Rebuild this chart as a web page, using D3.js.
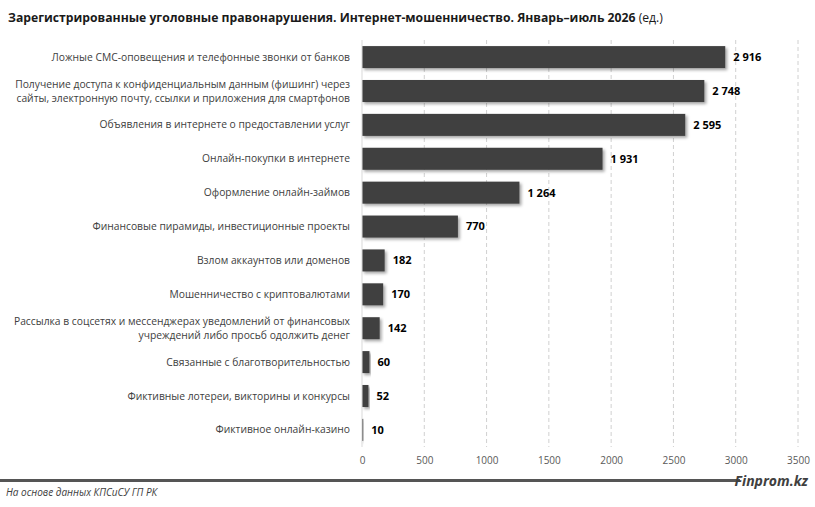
<!DOCTYPE html>
<html>
<head>
<meta charset="utf-8">
<script src="https://cdn.jsdelivr.net/npm/d3@7"></script>
<style>
  body { margin: 0; background: #fff; overflow: hidden; }
  text { font-family: "Open Sans", "Noto Sans", sans-serif; }
</style>
</head>
<body>
<div id="chart-area"></div>
<script>
// Data
const categories = [
  ['Ложные СМС-оповещения и телефонные звонки от банков'],
  ['Получение доступа к конфиденциальным данным (фишинг) через', 'сайты, электронную почту, ссылки и приложения для смартфонов'],
  ['Объявления в интернете о предоставлении услуг'],
  ['Онлайн-покупки в интернете'],
  ['Оформление онлайн-займов'],
  ['Финансовые пирамиды, инвестиционные проекты'],
  ['Взлом аккаунтов или доменов'],
  ['Мошенничество с криптовалютами'],
  ['Рассылка в соцсетях и мессенджерах уведомлений от финансовых', 'учреждений либо просьб одолжить денег'],
  ['Связанные с благотворительностью'],
  ['Фиктивные лотереи, викторины и конкурсы'],
  ['Фиктивное онлайн-казино']
];
const values = [2916, 2748, 2595, 1931, 1264, 770, 182, 170, 142, 60, 52, 10];
const xTicks = [0, 500, 1000, 1500, 2000, 2500, 3000, 3500];

const width = 815;
const height = 507;
const margin = { left: 362, right: 17, top: 40, bottom: 60 };
const chartWidth = width - margin.left - margin.right;
const chartHeight = height - margin.top - margin.bottom;

const svg = d3.select('#chart-area')
  .append('svg')
  .attr('width', width)
  .attr('height', height)
  .style('display', 'block');

const defs = svg.append('defs');
const shadow = defs.append('filter')
  .attr('id', 'shadow')
  .attr('x', '-10%').attr('y', '-30%')
  .attr('width', '130%').attr('height', '180%');
shadow.append('feDropShadow')
  .attr('dx', 2).attr('dy', 2)
  .attr('stdDeviation', 1.5)
  .attr('flood-color', '#000')
  .attr('flood-opacity', 0.35);

// Title
svg.append('text')
  .attr('x', 8)
  .attr('y', 22)
  .attr('font-size', '12.2px')
  .attr('font-weight', 'bold')
  .attr('fill', '#1a1a1a')
  .text('Зарегистрированные уголовные правонарушения. Интернет-мошенничество. Январь–июль 2026 ')
  .append('tspan')
  .attr('font-weight', 'normal')
  .text('(ед.)');

const chartGroup = svg.append('g')
  .attr('transform', `translate(${margin.left}, ${margin.top})`);

// Scales
const x = d3.scaleLinear()
  .domain([0, 3500])
  .range([0, chartWidth]);

const y = d3.scaleBand()
  .domain(d3.range(values.length))
  .range([0, chartHeight])
  .paddingInner(0.35)
  .paddingOuter(0.18);

// Grid
chartGroup.append('g')
  .selectAll('line')
  .data(xTicks.slice(1))
  .join('line')
  .attr('x1', (d) => x(d))
  .attr('x2', (d) => x(d))
  .attr('y1', 0)
  .attr('y2', chartHeight)
  .attr('stroke', '#d0d0d0')
  .attr('stroke-dasharray', '4,3');

// X axis
const xAxisCall = d3.axisBottom(x)
  .tickValues(xTicks)
  .tickSize(0)
  .tickPadding(10)
  .tickFormat(d3.format('d'));
const xAxisGroup = chartGroup.append('g')
  .attr('transform', `translate(0, ${chartHeight})`)
  .call(xAxisCall);
xAxisGroup.select('.domain').remove();
xAxisGroup.selectAll('text')
  .attr('font-size', '10px')
  .attr('font-family', '"Open Sans", "Noto Sans", sans-serif')
  .attr('fill', '#595959');

// Bars
chartGroup.selectAll('rect.bar')
  .data(values)
  .join('rect')
  .attr('class', 'bar')
  .attr('x', 0)
  .attr('y', (d, i) => y(i))
  .attr('width', (d) => x(d))
  .attr('height', y.bandwidth())
  .attr('fill', '#404040')
  .attr('filter', 'url(#shadow)');

// Y axis line
chartGroup.append('line')
  .attr('x1', 0).attr('x2', 0)
  .attr('y1', 0).attr('y2', chartHeight)
  .attr('stroke', '#d9d9d9');

// Value labels
const fmt = (v) => d3.format(',')(v).replace(/,/g, ' ');
chartGroup.selectAll('text.value')
  .data(values)
  .join('text')
  .attr('class', 'value')
  .attr('x', (d) => x(d) + 8)
  .attr('y', (d, i) => y(i) + y.bandwidth() / 2)
  .attr('dy', '0.35em')
  .attr('font-size', '11px')
  .attr('font-weight', 'bold')
  .attr('fill', '#000')
  .text(fmt);

// Category labels
const catLabels = chartGroup.selectAll('text.cat')
  .data(categories)
  .join('text')
  .attr('class', 'cat')
  .attr('x', -12)
  .attr('y', (d, i) => y(i) + y.bandwidth() / 2 - (d.length - 1) * 7)
  .attr('text-anchor', 'end')
  .attr('font-size', '10.3px')
  .attr('fill', '#404040');
catLabels.selectAll('tspan')
  .data((d) => d)
  .join('tspan')
  .attr('x', -12)
  .attr('dy', (d, i) => i === 0 ? '0.35em' : '14px')
  .text((d) => d);

// Footer rule, a row of short dark segments from the left edge to the brand name
const ruleSegments = d3.range(0, 740, 20);
svg.append('g')
  .selectAll('rect')
  .data(ruleSegments)
  .join('rect')
  .attr('x', (d) => d)
  .attr('y', 479)
  .attr('width', (d) => Math.min(20, 740 - d))
  .attr('height', 3)
  .attr('fill', '#555555');

svg.append('text')
  .attr('x', 808)
  .attr('y', 486)
  .attr('text-anchor', 'end')
  .attr('font-size', '14px')
  .attr('font-weight', 'bold')
  .attr('font-style', 'italic')
  .attr('fill', '#404040')
  .text('Finprom.kz');

svg.append('text')
  .attr('x', 6)
  .attr('y', 496)
  .attr('font-size', '10px')
  .attr('font-style', 'italic')
  .attr('fill', '#404040')
  .text('На основе данных КПСиСУ ГП РК');
</script>
</body>
</html>
